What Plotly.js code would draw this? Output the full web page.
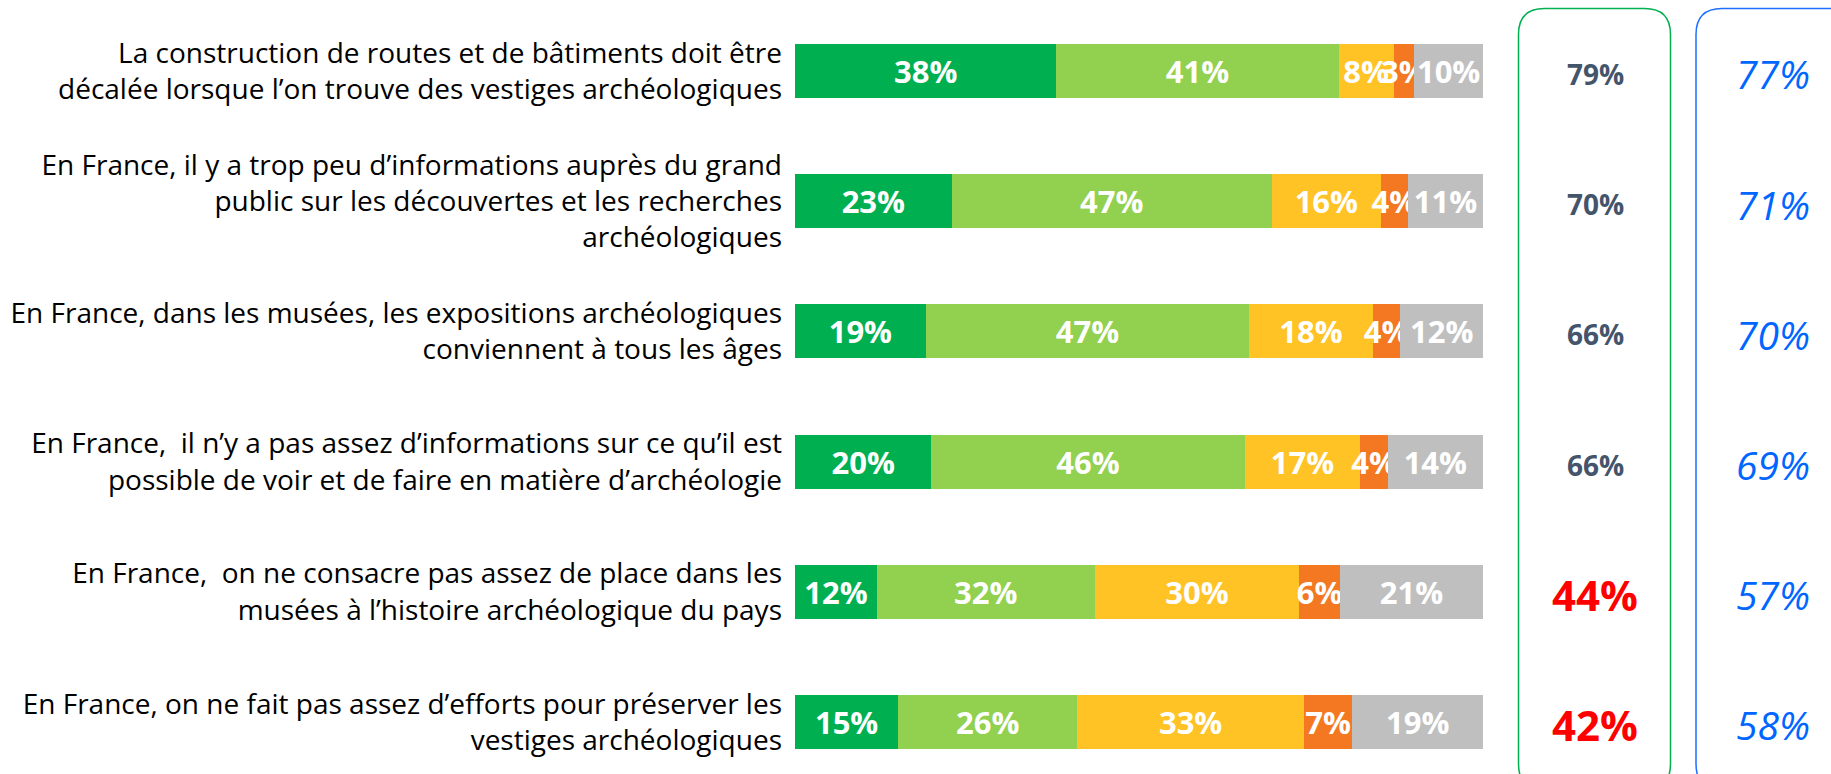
<!DOCTYPE html>
<html>
<head>
<meta charset="utf-8">
<script src="https://cdn.plot.ly/plotly-3.0.1.min.js"></script>
<style>html,body{margin:0;padding:0;background:#fff;}#chart{width:1831px;height:774px;}</style>
</head>
<body>
<div id="chart"></div>
<script>
// ---- data ----
const statements = [
  "La construction de routes et de bâtiments doit être<br>décalée lorsque l’on trouve des vestiges archéologiques",
  "En France, il y a trop peu d’informations auprès du grand<br>public sur les découvertes et les recherches<br>archéologiques",
  "En France, dans les musées, les expositions archéologiques<br>conviennent à tous les âges",
  "En France,  il n’y a pas assez d’informations sur ce qu’il est<br>possible de voir et de faire en matière d’archéologie",
  "En France,  on ne consacre pas assez de place dans les<br>musées à l’histoire archéologique du pays",
  "En France, on ne fait pas assez d’efforts pour préserver les<br>vestiges archéologiques"
];
const toutAFait   = [38, 23, 19, 20, 12, 15];
const plutot      = [41, 47, 47, 46, 32, 26];
const plutotPas   = [8, 16, 18, 17, 30, 33];
const pasDuTout   = [3, 4, 4, 4, 6, 7];
const nsp         = [10, 11, 12, 14, 21, 19];
const totalAccord = [79, 70, 66, 66, 44, 42];
const rappel      = [77, 71, 70, 69, 57, 58];
const columns     = ["Total d’accord", "Rappel"];

// ---- styles ----
const W = 1831, H = 774;
const segColors = ["#00B050", "#92D050", "#FFC326", "#F47721", "#BFBFBF"];
const segNames = ["Tout à fait d’accord", "Plutôt d’accord", "Plutôt pas d’accord", "Pas du tout d’accord", "Ne sait pas"];
const segData = [toutAFait, plutot, plutotPas, pasDuTout, nsp];

const traces = segData.map((vals, k) => ({
  type: "bar",
  orientation: "h",
  name: segNames[k],
  y: statements,
  x: vals,
  text: vals.map(v => v + "%"),
  textposition: "inside",
  insidetextanchor: "middle",
  constraintext: "none",
  textangle: 0,
  textfont: {family: "Open Sans", size: 31, color: "#FFFFFF", weight: 700},
  marker: {color: segColors[k], line: {width: 0}},
  hoverinfo: "skip",
  xaxis: "x",
  yaxis: "y"
}));

// invisible anchor trace so the side axis exists
traces.push({
  type: "scatter", mode: "none",
  x: columns, y: [statements[0], statements[0]],
  xaxis: "x2", yaxis: "y", hoverinfo: "skip", showlegend: false
});

const annotations = [];
statements.forEach((s, i) => {
  const low = totalAccord[i] < 50;
  annotations.push({
    xref: "x2", yref: "y", x: columns[0], y: s,
    text: totalAccord[i] + "%", showarrow: false, yshift: -3,
    xanchor: "center", yanchor: "middle",
    font: {family: "Open Sans", weight: 700, size: low ? 42 : 28, color: low ? "#FF0000" : "#44546A"}
  });
  annotations.push({
    xref: "x2", yref: "y", x: columns[1], y: s,
    text: rappel[i] + "%", showarrow: false, yshift: -3,
    xanchor: "center", yanchor: "middle",
    font: {family: "Open Sans", style: "italic", size: 39, color: "#0066FF"}
  });
});

function rr(x0, y0, x1, y1, r) {
  const X = v => (v / W).toFixed(5), Y = v => (1 - v / H).toFixed(5);
  return `M${X(x0 + r)},${Y(y0)} L${X(x1 - r)},${Y(y0)} Q${X(x1)},${Y(y0)} ${X(x1)},${Y(y0 + r)} ` +
         `L${X(x1)},${Y(y1 - r)} Q${X(x1)},${Y(y1)} ${X(x1 - r)},${Y(y1)} L${X(x0 + r)},${Y(y1)} ` +
         `Q${X(x0)},${Y(y1)} ${X(x0)},${Y(y1 - r)} L${X(x0)},${Y(y0 + r)} Q${X(x0)},${Y(y0)} ${X(x0 + r)},${Y(y0)} Z`;
}

const layout = {
  width: W, height: H,
  margin: {l: 0, r: 0, t: 0, b: 0, pad: 0},
  paper_bgcolor: "#FFFFFF", plot_bgcolor: "rgba(0,0,0,0)",
  barmode: "stack",
  barnorm: "percent",
  bargap: 0.585,
  showlegend: false,
  hovermode: false,
  font: {family: "Open Sans", color: "#0D0D0D"},
  xaxis: {domain: [795 / W, 1483 / W], range: [0, 100], showgrid: false, zeroline: false,
          showticklabels: false, ticks: "", showline: false, fixedrange: true},
  xaxis2: {domain: [1506 / W, 1826.4 / W], type: "category", categoryarray: columns,
           range: [-0.5, 1.3], showgrid: false, zeroline: false, showticklabels: false,
           ticks: "", showline: false, anchor: "y", fixedrange: true},
  yaxis: {type: "category", categoryarray: statements, range: [5.40, -0.545], domain: [0, 1],
          showgrid: false, zeroline: false, showline: false, ticks: "",
          tickfont: {family: "Open Sans", size: 28, color: "#000000"},
          ticklabelstandoff: 12, automargin: false, fixedrange: true},
  annotations: annotations,
  shapes: [
    {type: "path", xref: "paper", yref: "paper", path: rr(1518.5, 8.5, 1670.5, 790, 26),
     line: {color: "#00B050", width: 1.5}, fillcolor: "rgba(0,0,0,0)", layer: "below"},
    {type: "path", xref: "paper", yref: "paper", path: rr(1696, 8.5, 1860, 790, 26),
     line: {color: "#1F6FFF", width: 1.5}, fillcolor: "rgba(0,0,0,0)", layer: "below"}
  ]
};

Plotly.newPlot("chart", traces, layout, {displayModeBar: false, staticPlot: true});
</script>
</body>
</html>
